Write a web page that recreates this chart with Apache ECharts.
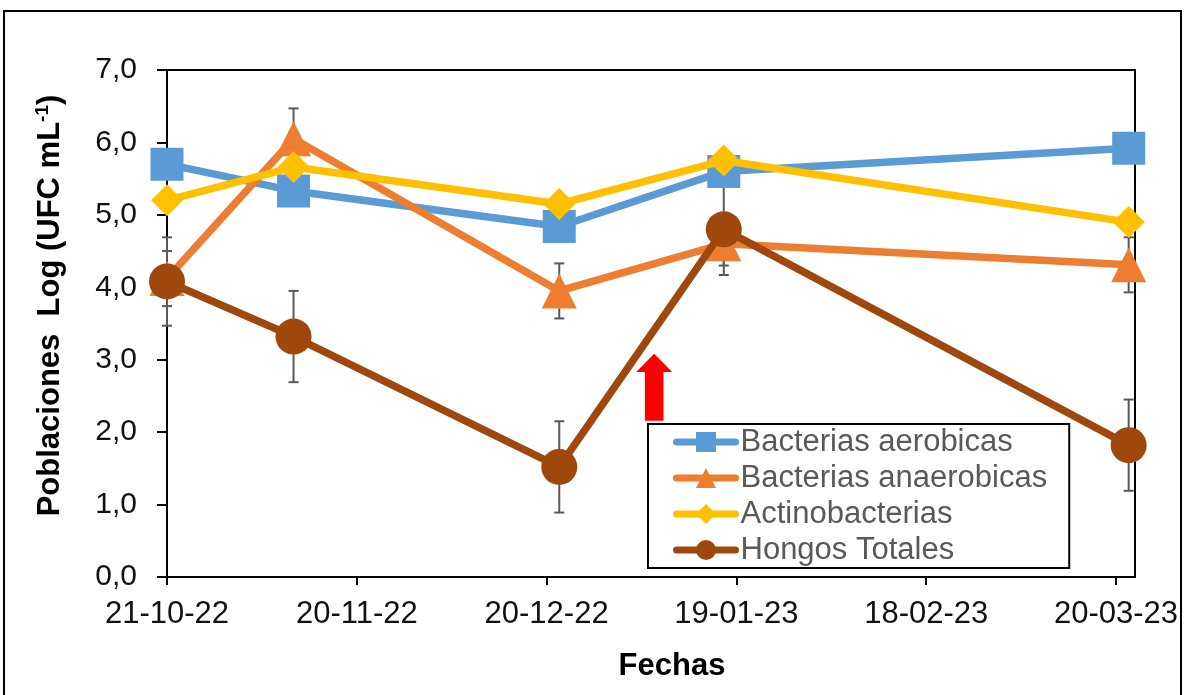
<!DOCTYPE html>
<html>
<head>
<meta charset="utf-8">
<script src="https://cdn.jsdelivr.net/npm/echarts@6/dist/echarts.min.js"></script>
<style>
  html, body { margin: 0; padding: 0; background: #fff; }
  #chart { width: 1186px; height: 695px; position: relative; }
  #frame { position: absolute; left: 3px; top: 10px; width: 1179px; height: 700px; border: 2px solid #000; box-sizing: border-box; pointer-events: none; }
</style>
</head>
<body>
<div id="chart"></div>
<div id="frame"></div>
<script>
// ---- data ----
const categories = ['2022-10-21', '2022-11-10', '2022-12-22', '2023-01-17', '2023-03-22'];
const seriesNames = ['Bacterias aerobicas', 'Bacterias anaerobicas', 'Actinobacterias', 'Hongos Totales'];
const aerobicas = [5.70, 5.33, 4.84, 5.60, 5.92];
const anaerobicas = [4.12, 6.05, 3.95, 4.60, 4.31];
const actinobacterias = [5.20, 5.66, 5.15, 5.75, 4.90];
const hongos = [4.08, 3.32, 1.52, 4.80, 1.82];
const errAnaerobicas = [0.38, 0.42, 0.38, 0.30, 0.38];
const errHongos = [0.61, 0.63, 0.63, 0.63, 0.63];
const tickDates = ['2022-10-21', '2022-11-20', '2022-12-20', '2023-01-19', '2023-02-18', '2023-03-20'];
const axisEndDate = '2023-03-23';
const yTicks = [0, 1, 2, 3, 4, 5, 6, 7];
const arrowDate = '2023-01-06';
const arrowValue = 2.62;

// ---- helpers ----
function utc(s) { const p = s.split('-').map(Number); return Date.UTC(p[0], p[1] - 1, p[2]); }
const origin = utc(tickDates[0]);
function dayOf(s) { return Math.round((utc(s) - origin) / 86400000); }
function fmtDay(d) {
  const t = new Date(origin + d * 86400000);
  const dd = String(t.getUTCDate()).padStart(2, '0');
  const mm = String(t.getUTCMonth() + 1).padStart(2, '0');
  const yy = String(t.getUTCFullYear()).slice(2);
  return dd + '-' + mm + '-' + yy;
}
const xs = categories.map(dayOf);
const tickDays = tickDates.map(dayOf);
const pts = arr => arr.map((v, i) => [xs[i], v]);
const errPts = (arr, err) => arr.map((v, i) => [xs[i], v, err[i]]);

const FONT = '"Liberation Sans", Arial, sans-serif';
const colors = ['#5B9BD5', '#ED7D31', '#FFC000', '#9E480E'];
const symbols = ['rect', 'triangle', 'diamond', 'circle'];
const symbolSizes = [33, 35, 32, 36];
const values = [aerobicas, anaerobicas, actinobacterias, hongos];

function renderErr(params, api) {
  const x = api.value(0), y = api.value(1), e = api.value(2);
  const top = api.coord([x, y + e]);
  const bot = api.coord([x, y - e]);
  const w = 5;
  const st = { stroke: '#595959', lineWidth: 2 };
  return {
    type: 'group',
    children: [
      { type: 'line', shape: { x1: top[0], y1: top[1], x2: bot[0], y2: bot[1] }, style: st },
      { type: 'line', shape: { x1: top[0] - w, y1: top[1], x2: top[0] + w, y2: top[1] }, style: st },
      { type: 'line', shape: { x1: bot[0] - w, y1: bot[1], x2: bot[0] + w, y2: bot[1] }, style: st }
    ]
  };
}

const series = [];
series.push({ type: 'custom', name: 'errA', renderItem: renderErr, data: errPts(anaerobicas, errAnaerobicas), z: 1, silent: true });
series.push({ type: 'custom', name: 'errH', renderItem: renderErr, data: errPts(hongos, errHongos), z: 1, silent: true });
seriesNames.forEach((n, i) => {
  series.push({
    type: 'line',
    name: n,
    data: pts(values[i]),
    symbol: symbols[i],
    symbolSize: symbolSizes[i],
    showAllSymbol: true,
    z: 2 + i,
    lineStyle: { color: colors[i], width: 7.5 },
    itemStyle: { color: colors[i], borderWidth: 0 },
    emphasis: { disabled: true },
    animation: false
  });
});
series.push({
  type: 'scatter',
  name: 'arrow',
  data: [[dayOf(arrowDate), arrowValue]],
  symbol: 'path://M18,0 L36,18.4 L27.3,18.4 L27.3,67.4 L8.7,67.4 L8.7,18.4 L0,18.4 Z',
  symbolSize: [36, 67],
  itemStyle: { color: '#FF0000', opacity: 1 },
  z: 10,
  silent: true
});

const chart = echarts.init(document.getElementById('chart'), null, { renderer: 'canvas' });
chart.setOption({
  animation: false,
  backgroundColor: '#fff',
  textStyle: { fontFamily: FONT },
  grid: { left: 167, right: 51, top: 70, bottom: 118, show: true, borderColor: '#000', borderWidth: 2, containLabel: false },
  legend: {
    data: seriesNames,
    orient: 'vertical',
    left: 648,
    top: 424,
    padding: [0, 22, 0, 25],
    itemGap: 0,
    itemWidth: 59,
    itemHeight: 25,
    lineStyle: { width: 7, cap: 'round' },
    backgroundColor: '#fff',
    borderColor: '#000',
    borderWidth: 2,
    borderRadius: 0,
    textStyle: { fontSize: 31, color: '#595959', fontFamily: FONT, lineHeight: 36 }
  },
  xAxis: {
    type: 'value',
    min: 0,
    max: dayOf(axisEndDate),
    interval: 30,
    name: 'Fechas',
    nameLocation: 'middle',
    nameGap: 74,
    nameTextStyle: { fontSize: 31, fontWeight: 'bold', color: '#000', fontFamily: FONT, padding: [0, 0, 0, 42] },
    axisLine: { show: true, lineStyle: { color: '#000', width: 2 } },
    axisTick: { show: true, length: 8, lineStyle: { color: '#000', width: 2 }, customValues: tickDays },
    axisLabel: { fontSize: 31, color: '#111', fontFamily: FONT, margin: 22, customValues: tickDays, formatter: v => fmtDay(v) },
    splitLine: { show: false }
  },
  yAxis: {
    type: 'value',
    min: yTicks[0],
    max: yTicks[yTicks.length - 1],
    interval: 1,
    name: '{b|Poblaciones  Log (UFC mL}{s|-1}{b|)}',
    nameLocation: 'middle',
    nameRotate: 90,
    nameGap: 100,
    nameTextStyle: {
      padding: [0, 0, 0, 36],
      rich: {
        b: { fontSize: 31, fontWeight: 'bold', color: '#000', fontFamily: FONT, lineHeight: 34 },
        s: { fontSize: 19, fontWeight: 'bold', color: '#000', fontFamily: FONT, verticalAlign: 'top', lineHeight: 20 }
      }
    },
    axisLine: { show: true, lineStyle: { color: '#000', width: 2 } },
    axisTick: { show: true, length: 10, lineStyle: { color: '#000', width: 2 } },
    axisLabel: { fontSize: 30, color: '#111', fontFamily: FONT, margin: 30, formatter: v => v.toFixed(1).replace('.', ',') },
    splitLine: { show: false }
  },
  series: series
});
</script>
</body>
</html>
